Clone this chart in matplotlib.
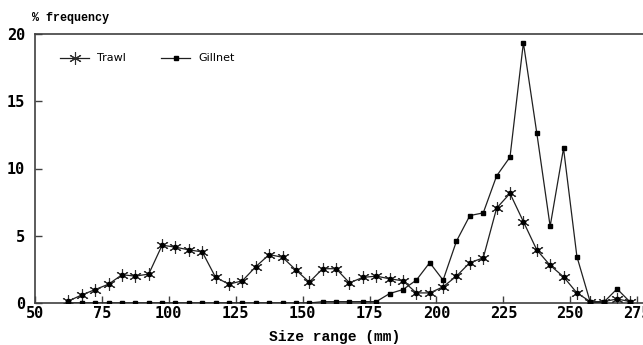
import matplotlib
matplotlib.use("Agg")
import matplotlib.pyplot as plt
import numpy as np

size_mid = [62.5, 67.5, 72.5, 77.5, 82.5, 87.5, 92.5, 97.5, 102.5, 107.5,
            112.5, 117.5, 122.5, 127.5, 132.5, 137.5, 142.5, 147.5, 152.5, 157.5,
            162.5, 167.5, 172.5, 177.5, 182.5, 187.5, 192.5, 197.5, 202.5, 207.5,
            212.5, 217.5, 222.5, 227.5, 232.5, 237.5, 242.5, 247.5, 252.5, 257.5,
            262.5, 267.5, 272.5]
trawl = [0.15, 0.6, 1.0, 1.4, 2.1, 2.0, 2.15, 4.3, 4.15, 3.95,
         3.8, 1.9, 1.4, 1.65, 2.7, 3.6, 3.4, 2.45, 1.55, 2.55,
         2.55, 1.5, 1.9, 2.0, 1.8, 1.65, 0.75, 0.75, 1.2, 2.0,
         3.0, 3.35, 7.05, 8.15, 6.05, 3.95, 2.8, 1.95, 0.75, 0.1,
         0.1, 0.3, 0.1]
gillnet = [0.0, 0.0, 0.0, 0.0, 0.0, 0.0, 0.0, 0.0, 0.0, 0.0,
           0.0, 0.0, 0.0, 0.0, 0.0, 0.0, 0.0, 0.0, 0.0, 0.1,
           0.1, 0.1, 0.1, 0.1, 0.7, 1.0, 1.7, 3.0, 1.7, 4.6,
           6.5, 6.7, 9.45, 10.85, 19.35, 12.65, 5.7, 11.5, 3.45, 0.05,
           0.05, 1.05, 0.05]
xticks = [50, 75, 100, 125, 150, 175, 200, 225, 250, 275]
yticks = [0, 5, 10, 15, 20]

W, H = 643, 345
fig = plt.figure(figsize=(W / 100, H / 100), dpi=100)
ax = fig.add_axes([35 / W, 42 / H, 615.5 / W, 269 / H])

line_col = "#202020"
ax.plot(size_mid, trawl, color=line_col, lw=0.9, marker=(6, 2, 0),
        ms=9, mew=0.8, mec="#303030", label="Trawl", zorder=3)
ax.plot(size_mid, trawl, color="none", marker="o", ms=3, mfc="black",
        mec="black", zorder=4)
ax.plot(size_mid, gillnet, color=line_col, lw=0.9, marker="s", ms=2.6,
        mfc="black", mec="black", label="Gillnet", zorder=3)

ax.set_xlim(50, 280)
ax.set_ylim(0, 20)
ax.set_xticks(xticks)
ax.set_yticks(yticks)
mono = {"family": "DejaVu Sans Mono", "weight": "bold", "size": 11}
ax.set_xticklabels([str(t) for t in xticks], fontdict=mono)
ax.set_yticklabels([str(t) for t in yticks], fontdict=mono)
ax.tick_params(axis="both", direction="in", length=5, width=1, color="#404040", pad=2)
ax.tick_params(axis="y", pad=7)

for s in ["left", "bottom", "top"]:
    ax.spines[s].set_color("#404040")
    ax.spines[s].set_linewidth(1.2)
ax.spines["right"].set_visible(False)

fig.text(335 / W, 1 - 337 / H, "Size range (mm)", ha="center", va="center",
         family="Liberation Mono", weight="bold", size=10.5)
fig.text(32 / W, 1 - 18 / H, "% frequency", ha="left", va="center",
         family="Liberation Mono", weight="bold", size=8.5)

leg = ax.legend(loc="upper left", bbox_to_anchor=(0.025, 0.965), ncol=2,
                frameon=False, prop={"family": "DejaVu Sans", "size": 8},
                handlelength=2.6, columnspacing=3.2, handletextpad=0.7)

fig.savefig("out.png", dpi=100)
